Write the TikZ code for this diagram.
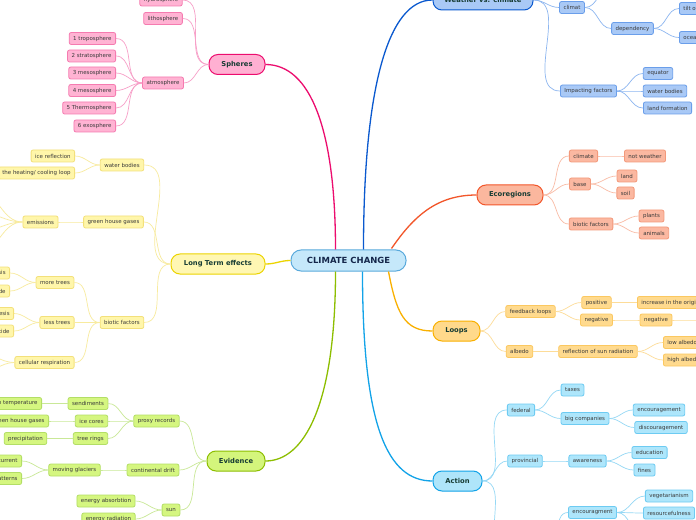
\documentclass[tikz,border=0pt]{standalone}
\usepackage{fontspec}
\setmainfont{DejaVu Sans}
\usepackage{xcolor}
\definecolor{HubFill}{HTML}{C5E8FA}
\definecolor{HubLine}{HTML}{5AAADC}
\definecolor{HubText}{HTML}{14264A}
\definecolor{TopicText}{HTML}{173C34}
\definecolor{LeafText}{HTML}{3A3A3A}
\definecolor{SphFill}{HTML}{FFB0D2}
\definecolor{SphEdge}{HTML}{EC0C6E}
\definecolor{SphLeaf}{HTML}{FFB3D3}
\definecolor{SphLine}{HTML}{F57BB0}
\definecolor{SphTwig}{HTML}{F7A0C8}
\definecolor{LteFill}{HTML}{FFF7B3}
\definecolor{LteEdge}{HTML}{ECD400}
\definecolor{LteLeaf}{HTML}{FFF6AA}
\definecolor{LteLine}{HTML}{F3E07A}
\definecolor{LteTwig}{HTML}{F8EB9E}
\definecolor{EviFill}{HTML}{D4F57C}
\definecolor{EviEdge}{HTML}{8DBE00}
\definecolor{EviLeaf}{HTML}{D5F680}
\definecolor{EviLine}{HTML}{B3DE66}
\definecolor{EviTwig}{HTML}{C9E897}
\definecolor{WvcFill}{HTML}{A9C9F6}
\definecolor{WvcEdge}{HTML}{0A59CF}
\definecolor{WvcLeaf}{HTML}{A9C9F6}
\definecolor{WvcLine}{HTML}{6A9EEA}
\definecolor{WvcTwig}{HTML}{8DB6F0}
\definecolor{EcoFill}{HTML}{FBB79E}
\definecolor{EcoEdge}{HTML}{F2562A}
\definecolor{EcoLeaf}{HTML}{FBB8A1}
\definecolor{EcoLine}{HTML}{F3997B}
\definecolor{EcoTwig}{HTML}{F9BCA6}
\definecolor{LooFill}{HTML}{FFD98B}
\definecolor{LooEdge}{HTML}{F9B000}
\definecolor{LooLeaf}{HTML}{FFDA8E}
\definecolor{LooLine}{HTML}{FBC860}
\definecolor{LooTwig}{HTML}{FDDC98}
\definecolor{ActFill}{HTML}{AFE5FA}
\definecolor{ActEdge}{HTML}{12A3E8}
\definecolor{ActLeaf}{HTML}{AEE6FB}
\definecolor{ActLine}{HTML}{6DCBF2}
\definecolor{ActTwig}{HTML}{95D8F5}

\begin{document}
\begin{tikzpicture}[
    x=1bp, y=-1bp,
    hub/.style={draw=HubLine, fill=HubFill, line width=1bp, rounded corners=10bp,
        minimum width=115bp, minimum height=21bp, text=HubText,
        font=\fontsize{8.5}{10}\selectfont\bfseries},
    topic/.style={line width=1bp, rounded corners=9bp, minimum height=20bp,
        text=TopicText, font=\fontsize{6.8}{8}\selectfont\bfseries},
    leaf/.style={line width=0.8bp, rounded corners=2bp, minimum height=12bp,
        inner xsep=4bp, inner ysep=0pt, text=LeafText,
        font=\fontsize{5.5}{6.5}\selectfont},
    trunk/.style={line width=1.3bp},
    twig/.style={line width=0.7bp},
    lt/.style={out=180, in=0},
    rt/.style={out=0, in=180},
    sph/.style={leaf, fill=SphLeaf, draw=SphLine},
    lte/.style={leaf, fill=LteLeaf, draw=LteLine},
    evi/.style={leaf, fill=EviLeaf, draw=EviLine},
    wvc/.style={leaf, fill=WvcLeaf, draw=WvcLine},
    eco/.style={leaf, fill=EcoLeaf, draw=EcoLine},
    loo/.style={leaf, fill=LooLeaf, draw=LooLine},
    act/.style={leaf, fill=ActLeaf, draw=ActLine}
]
\useasboundingbox (0,0) rectangle (696,520);
\fill[white] (0,0) rectangle (696,520);
\clip (0,0) rectangle (696,520);

% centre and main topics
\node[hub] (cc) at (348.5,260.5) {CLIMATE CHANGE};
\node[topic, fill=SphFill, draw=SphEdge, minimum width=56bp] (spheres) at (237,64.5) {Spheres};
\node[topic, fill=WvcFill, draw=WvcEdge, minimum width=100bp] (weather) at (483,0) {Weather vs. climate};
\node[topic, fill=EcoFill, draw=EcoEdge, minimum width=66bp] (ecoreg) at (510,195) {Ecoregions};
\node[topic, fill=LteFill, draw=LteEdge, minimum width=94bp] (longterm) at (218,264) {Long Term effects};
\node[topic, fill=LooFill, draw=LooEdge, minimum width=47bp] (loops) at (456.5,331) {Loops};
\node[topic, fill=EviFill, draw=EviEdge, minimum width=58bp] (evidence) at (236,461) {Evidence};
\node[topic, fill=ActFill, draw=ActEdge, minimum width=49bp] (action) at (457.5,481) {Action};

\draw[trunk, SphEdge] ([xshift=-13bp]cc.north) .. controls +(0,-120) and +(45,0) .. (spheres.east);
\draw[trunk, WvcEdge] ([xshift=15bp]cc.north) .. controls +(0,-160) and +(-45,0) .. (weather.west);
\draw[trunk, EcoEdge] ([xshift=43bp,yshift=1bp]cc.north) .. controls +(22,-32) and +(-40,0) .. (ecoreg.west);
\draw[trunk, LteEdge] (cc.west) .. controls +(-10,0) and +(10,0) .. (longterm.east);
\draw[trunk, LooEdge] ([xshift=40bp]cc.south) .. controls +(8,42) and +(-28,0) .. (loops.west);
\draw[trunk, EviEdge] ([xshift=-13bp]cc.south) .. controls +(0,135) and +(38,0) .. (evidence.east);
\draw[trunk, ActEdge] ([xshift=14bp]cc.south) .. controls +(0,155) and +(-45,0) .. (action.west);

% Spheres
\node[sph] (hydro) at (161,0) {hydrosphere};
\node[sph] (litho) at (163,18.5) {lithosphere};
\node[sph] (atmo) at (163,83) {atmosphere};
\node[sph, anchor=east] (tropo) at (116,38.5) {1 troposphere};
\node[sph, anchor=east] (strato) at (116,56) {2 stratosphere};
\node[sph, anchor=east] (meso3) at (116,73) {3 mesosphere};
\node[sph, anchor=east] (meso4) at (116,90.5) {4 mesosphere};
\node[sph, anchor=east] (thermo) at (116,108) {5 Thermosphere};
\node[sph, anchor=east] (exo) at (116,126) {6 exosphere};
\foreach \n in {hydro,litho,atmo}
    \draw[twig, SphTwig] (spheres.west) to[lt] (\n.east);
\foreach \n in {tropo,strato,meso3,meso4,thermo,exo}
    \draw[twig, SphTwig] (atmo.west) to[lt] (\n.east);

% Long Term effects
\node[lte] (waterb) at (122,165) {water bodies};
\node[lte, anchor=east] (icerefl) at (75,156) {ice reflection};
\node[lte, anchor=east] (heatloop) at (75,173) {the heating/ cooling loop};
\node[lte] (ghg) at (113.5,222) {green house gases};
\node[lte] (emis) at (40.5,222) {emissions};
\node[lte] (biotic) at (122,322.5) {biotic factors};
\node[lte] (moretr) at (55,282.5) {more trees};
\node[lte] (lesstr) at (57,322.5) {less trees};
\node[lte] (cellresp) at (44.5,362.5) {cellular respiration};
\node[lte, anchor=east] (morephoto) at (10,273) {photosynthesis};
\node[lte, anchor=east] (moreco) at (10,291) {carbon dioxide};
\node[lte, anchor=east] (lessphoto) at (14,313.5) {photosynthesis};
\node[lte, anchor=east] (lessco) at (14,331) {carbon dioxide};
\coordinate (emis1) at (-22,192);
\coordinate (emis2) at (-22,212);
\coordinate (emis3) at (-22,232);
\coordinate (emis4) at (-22,252);
\coordinate (resp1) at (-22,352);
\coordinate (resp2) at (-22,374);
\foreach \n in {waterb,ghg,biotic}
    \draw[twig, LteTwig] (longterm.west) to[lt] (\n.east);
\foreach \n in {icerefl,heatloop}
    \draw[twig, LteTwig] (waterb.west) to[lt] (\n.east);
\draw[twig, LteTwig] (ghg.west) to[lt] (emis.east);
\foreach \n in {emis1,emis2,emis3,emis4}
    \draw[twig, LteTwig] (emis.west) to[lt] (\n);
\foreach \n in {moretr,lesstr,cellresp}
    \draw[twig, LteTwig] (biotic.west) to[lt] (\n.east);
\foreach \n in {morephoto,moreco}
    \draw[twig, LteTwig] (moretr.west) to[lt] (\n.east);
\foreach \n in {lessphoto,lessco}
    \draw[twig, LteTwig] (lesstr.west) to[lt] (\n.east);
\foreach \n in {resp1,resp2}
    \draw[twig, LteTwig] (cellresp.west) to[lt] (\n);

% Evidence
\node[evi] (proxy) at (156.5,421) {proxy records};
\node[evi] (sedim) at (88,403.5) {sendiments};
\node[evi] (icecore) at (91.5,421) {ice cores};
\node[evi] (treering) at (90.5,438.5) {tree rings};
\node[evi, anchor=east] (temper) at (42,403.5) {ocean temperature};
\node[evi, anchor=east] (gases) at (49,421) {green house gases};
\node[evi] (precip) at (25.5,438.5) {precipitation};
\node[evi] (drift) at (153,470) {continental drift};
\node[evi] (glacier) at (74.5,470) {moving glaciers};
\node[evi, anchor=east] (current) at (22,461) {ocean current};
\node[evi, anchor=east] (pattern) at (22,478.5) {weather patterns};
\node[evi] (sun) at (171,510) {sun};
\node[evi] (absorb) at (106,501) {energy absorbtion};
\node[evi] (radiat) at (108.5,519) {energy radiation};
\foreach \n in {proxy,drift,sun}
    \draw[twig, EviTwig] (evidence.west) to[lt] (\n.east);
\foreach \n in {sedim,icecore,treering}
    \draw[twig, EviTwig] (proxy.west) to[lt] (\n.east);
\draw[twig, EviTwig] (sedim.west) to[lt] (temper.east);
\draw[twig, EviTwig] (icecore.west) to[lt] (gases.east);
\draw[twig, EviTwig] (treering.west) to[lt] (precip.east);
\draw[twig, EviTwig] (drift.west) to[lt] (glacier.east);
\foreach \n in {current,pattern}
    \draw[twig, EviTwig] (glacier.west) to[lt] (\n.east);
\foreach \n in {absorb,radiat}
    \draw[twig, EviTwig] (sun.west) to[lt] (\n.east);

% Weather vs. climate
\node[wvc] (climat) at (572,7.5) {climat};
\node[wvc] (depend) at (632.5,28.5) {dependency};
\node[wvc, anchor=west] (tilt) at (679,8.5) {tilt of the earth};
\node[wvc, anchor=west] (ocean) at (679,37.5) {ocean currents};
\node[wvc] (impact) at (588.5,91) {Impacting factors};
\node[wvc] (equator) at (658,73.5) {equator};
\node[wvc] (waterw) at (665,91) {water bodies};
\node[wvc] (landf) at (667.5,108) {land formation};
\coordinate (climup) at (612,-14);
\foreach \n in {climat,impact}
    \draw[twig, WvcTwig] (weather.east) to[rt] (\n.west);
\draw[twig, WvcTwig] (climat.east) to[rt] (climup);
\draw[twig, WvcTwig] (climat.east) to[rt] (depend.west);
\foreach \n in {tilt,ocean}
    \draw[twig, WvcTwig] (depend.east) to[rt] (\n.west);
\foreach \n in {equator,waterw,landf}
    \draw[twig, WvcTwig] (impact.east) to[rt] (\n.west);

% Ecoregions
\node[eco] (ecoclim) at (583.5,156) {climate};
\node[eco] (notweat) at (645,156) {not weather};
\node[eco] (base) at (580,184) {base};
\node[eco] (land) at (627,176) {land};
\node[eco] (soil) at (625.5,193) {soil};
\node[eco] (ecobio) at (591,224) {biotic factors};
\node[eco] (plants) at (651.5,216) {plants};
\node[eco] (animals) at (654,233) {animals};
\foreach \n in {ecoclim,base,ecobio}
    \draw[twig, EcoTwig] (ecoreg.east) to[rt] (\n.west);
\draw[twig, EcoTwig] (ecoclim.east) to[rt] (notweat.west);
\foreach \n in {land,soil}
    \draw[twig, EcoTwig] (base.east) to[rt] (\n.west);
\foreach \n in {plants,animals}
    \draw[twig, EcoTwig] (ecobio.east) to[rt] (\n.west);

% Loops
\node[loo] (feedback) at (530.5,311.5) {feedback loops};
\node[loo] (positive) at (596.5,302.5) {positive};
\node[loo, anchor=west] (increase) at (637,302.5) {increase in the original change};
\node[loo] (negative) at (596.5,320) {negative};
\node[loo] (negtwo) at (656,320) {negative};
\node[loo] (albedo) at (519.5,351.5) {albedo};
\node[loo] (reflect) at (598,351.5) {reflection of sun radiation};
\node[loo, anchor=west] (lowalb) at (663,342.5) {low albedo};
\node[loo, anchor=west] (highalb) at (663,360) {high albedo};
\coordinate (negnext) at (720,320);
\foreach \n in {feedback,albedo}
    \draw[twig, LooTwig] (loops.east) to[rt] (\n.west);
\foreach \n in {positive,negative}
    \draw[twig, LooTwig] (feedback.east) to[rt] (\n.west);
\draw[twig, LooTwig] (positive.east) to[rt] (increase.west);
\draw[twig, LooTwig] (negative.east) to[rt] (negtwo.west);
\draw[twig, LooTwig] (negtwo.east) to[rt] (negnext);
\draw[twig, LooTwig] (albedo.east) to[rt] (reflect.west);
\foreach \n in {lowalb,highalb}
    \draw[twig, LooTwig] (reflect.east) to[rt] (\n.west);

% Action
\node[act] (federal) at (521,410) {federal};
\node[act] (taxes) at (572.5,390) {taxes};
\node[act] (bigcomp) at (585,418.5) {big companies};
\node[act] (encour) at (659,410) {encouragement};
\node[act] (discour) at (661,427.5) {discouragement};
\node[act] (provin) at (525,461) {provincial};
\node[act] (aware) at (587.5,461) {awareness};
\node[act] (educ) at (649.5,452.5) {education};
\node[act] (fines) at (644.5,470) {fines};
\node[act] (encourtwo) at (592.5,512.5) {encouragment};
\node[act] (vegetar) at (669,496) {vegetarianism};
\node[act] (resource) at (669,513) {resourcefulness};
\coordinate (indivw) at (507,552);
\coordinate (indive) at (547,552);
\coordinate (encnext) at (643,534);
\foreach \n in {federal,provin}
    \draw[twig, ActTwig] (action.east) to[rt] (\n.west);
\draw[twig, ActTwig] (action.east) to[rt] (indivw);
\foreach \n in {taxes,bigcomp}
    \draw[twig, ActTwig] (federal.east) to[rt] (\n.west);
\foreach \n in {encour,discour}
    \draw[twig, ActTwig] (bigcomp.east) to[rt] (\n.west);
\draw[twig, ActTwig] (provin.east) to[rt] (aware.west);
\foreach \n in {educ,fines}
    \draw[twig, ActTwig] (aware.east) to[rt] (\n.west);
\draw[twig, ActTwig] (indive) to[rt] (encourtwo.west);
\foreach \n in {vegetar,resource}
    \draw[twig, ActTwig] (encourtwo.east) to[rt] (\n.west);
\draw[twig, ActTwig] (encourtwo.east) to[rt] (encnext);

\end{tikzpicture}
\end{document}
